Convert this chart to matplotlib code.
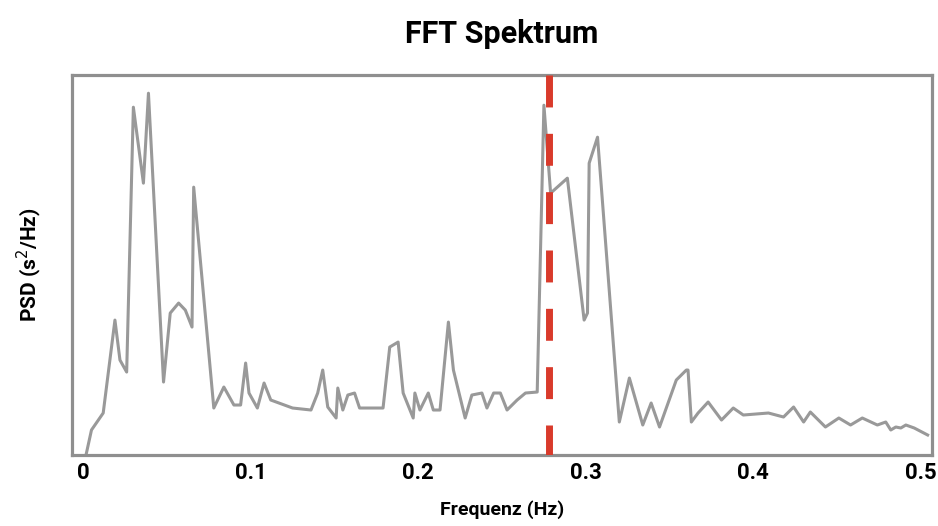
import matplotlib
matplotlib.use('Agg')
import matplotlib.pyplot as plt

# frequency (Hz) and PSD values
freq = [0.002, 0.005, 0.012, 0.019, 0.022, 0.026, 0.030, 0.036, 0.039, 0.048,
        0.052, 0.057, 0.061, 0.065, 0.066, 0.078, 0.084, 0.090, 0.094, 0.097,
        0.099, 0.104, 0.108, 0.112, 0.125, 0.136, 0.140, 0.143, 0.146, 0.151,
        0.152, 0.155, 0.158, 0.162, 0.165, 0.179, 0.183, 0.188, 0.191, 0.197,
        0.198, 0.201, 0.206, 0.209, 0.213, 0.218, 0.221, 0.228, 0.232, 0.238,
        0.241, 0.245, 0.249, 0.253, 0.259, 0.264, 0.271, 0.275, 0.279, 0.289,
        0.299, 0.301, 0.302, 0.307, 0.320, 0.326, 0.334, 0.339, 0.344, 0.354,
        0.360, 0.361, 0.363, 0.367, 0.373, 0.381, 0.388, 0.394, 0.409, 0.418,
        0.424, 0.430, 0.434, 0.443, 0.451, 0.458, 0.465, 0.474, 0.479, 0.482,
        0.485, 0.488, 0.491, 0.496, 0.504]
psd = [0.02, 0.25, 0.42, 1.35, 0.95, 0.83, 3.48, 2.72, 3.62, 0.73,
       1.42, 1.52, 1.45, 1.28, 2.68, 0.47, 0.68, 0.50, 0.50, 0.92,
       0.62, 0.47, 0.72, 0.55, 0.47, 0.45, 0.62, 0.85, 0.48, 0.37,
       0.67, 0.45, 0.60, 0.62, 0.47, 0.47, 1.08, 1.13, 0.62, 0.37,
       0.62, 0.45, 0.62, 0.45, 0.45, 1.33, 0.85, 0.37, 0.60, 0.62,
       0.47, 0.62, 0.62, 0.45, 0.55, 0.62, 0.63, 3.50, 2.62, 2.77,
       1.35, 1.42, 2.92, 3.18, 0.33, 0.77, 0.30, 0.52, 0.28, 0.75,
       0.85, 0.85, 0.33, 0.42, 0.53, 0.35, 0.47, 0.40, 0.42, 0.38,
       0.48, 0.33, 0.43, 0.28, 0.37, 0.30, 0.37, 0.30, 0.33, 0.25,
       0.28, 0.27, 0.30, 0.27, 0.20]
peak_freq = 0.278
xticks = [0, 0.1, 0.2, 0.3, 0.4, 0.5]
xtick_labels = ['0', '0.1', '0.2', '0.3', '0.4', '0.5']

FONT = ['Roboto', 'DejaVu Sans']


def main():
    fig = plt.figure(figsize=(9.38, 5.26), dpi=100)
    ax = fig.add_axes([0.0768, 0.135, 0.9168, 0.722])

    ax.plot(freq, psd, color='#999999', lw=2.2, zorder=2)
    # dashed marker drawn top-down so the dash pattern starts at the frame top
    ax.plot([peak_freq, peak_freq], [1, 0], transform=ax.get_xaxis_transform(),
            color='#d93a2b', lw=5, dashes=(4.6, 3.8), zorder=3)

    ax.set_xlim(-0.0066, 0.5066)
    ax.set_ylim(0, 3.8)
    ax.set_yticks([])
    ax.set_xticks(xticks)
    ax.set_xticklabels(xtick_labels, family=FONT, fontsize=16, fontweight='bold')
    ax.tick_params(axis='x', length=0, pad=5)

    for s in ax.spines.values():
        s.set_color('#8f8f8f')
        s.set_linewidth(2.3)

    ax.set_title('FFT Spektrum', family=FONT, fontsize=22, fontweight='bold', pad=23)
    ax.set_xlabel('Frequenz (Hz)', family=FONT, fontsize=14, fontweight='bold', labelpad=12)
    ax.set_ylabel('PSD (s$^2$/Hz)', family=FONT, fontsize=15, fontweight='bold', labelpad=20)

    fig.savefig('out.png', dpi=100, facecolor='white')


if __name__ == '__main__':
    main()
